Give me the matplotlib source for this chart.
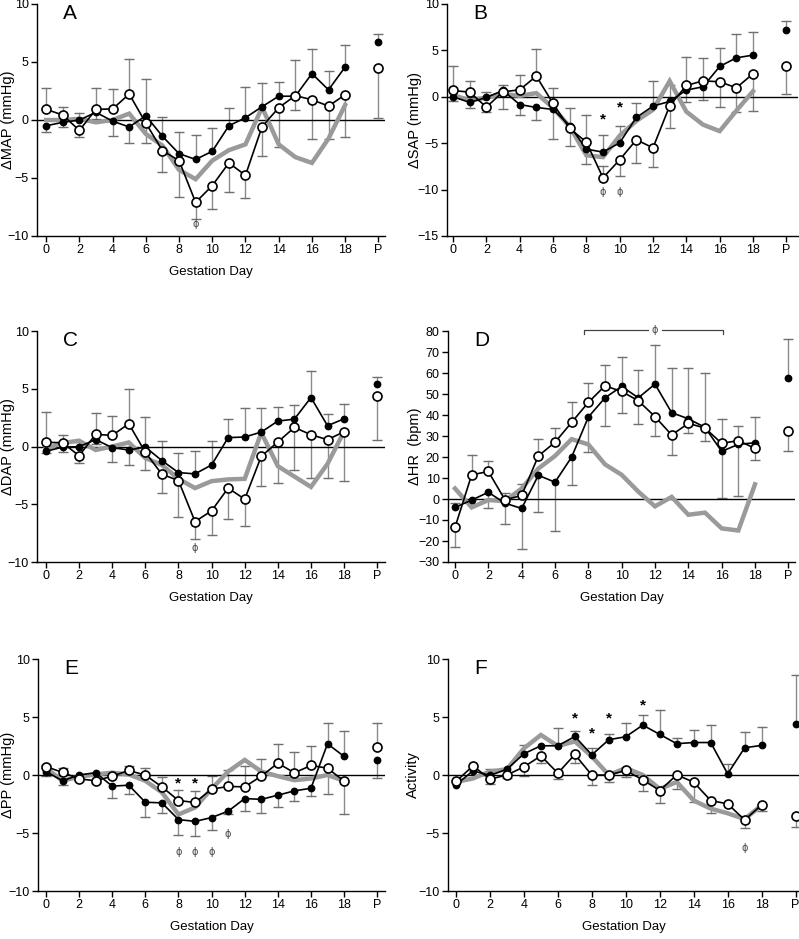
import numpy as np
import matplotlib
matplotlib.use("Agg")
import matplotlib.pyplot as plt

plt.rcParams['font.family'] = ['Liberation Sans', 'DejaVu Sans']

days = list(range(19)) + [20]
xtick_pos = [0, 2, 4, 6, 8, 10, 12, 14, 16, 18, 20]
xtick_labels = ['0', '2', '4', '6', '8', '10', '12', '14', '16', '18', 'P']

## A. MAP ##
map_filled = [-0.5, -0.2, 0.0, 0.66, -0.1, -0.6, 0.37, -1.4, -2.9, -3.4, -2.7, -0.5, 0.2, 1.15, 2.05, 2.05, 4.0, 2.6, 4.57, 6.75]
map_filled_err = [-1.0, -0.6, 0.6, 0.1, -1.4, -2.0, 3.5, 0.25, -1.0, -1.3, -0.7, 1.0, 2.85, 3.2, 3.3, 5.2, 6.1, 4.2, 6.5, 7.4]
map_open = [0.92, 0.43, -0.9, 0.92, 0.95, 2.24, -0.26, -2.64, -3.5, -7.1, -5.66, -3.7, -4.77, -0.57, 1.06, 2.1, 1.75, 1.2, 2.18, 4.48]
map_open_err = [2.8, 1.1, -1.5, 2.8, 2.7, 5.3, -2.0, -4.5, -6.6, -8.5, -7.7, -6.2, -6.7, -3.1, -2.3, 0.85, -1.6, -1.6, -1.5, 0.15]
map_grey = [0.0, 0.0, 0.1, -0.2, 0.0, 0.55, -1.2, -2.2, -4.3, -5.1, -3.5, -2.6, -2.1, 1.1, -2.1, -3.2, -3.7, -1.6, 1.3]

## B. SAP ##
sap_filled = [0.0, -0.6, -0.07, 0.68, -0.83, -1.15, -1.36, -3.1, -5.64, -5.96, -4.96, -2.23, -1.0, -0.5, 0.72, 1.08, 3.27, 4.2, 4.49, 7.22]
sap_filled_err = [-0.5, -1.2, 0.5, 1.3, -2.0, -2.5, 1.0, -1.2, -2.0, -4.1, -3.2, -0.7, 1.7, 1.3, 4.3, 4.2, 5.3, 6.8, 6.95, 8.2]
sap_open = [0.68, 0.5, -1.11, 0.54, 0.75, 2.23, -0.72, -3.41, -4.88, -8.73, -6.79, -4.63, -5.5, -0.97, 1.22, 1.72, 1.62, 0.97, 2.48, 3.3]
sap_open_err = [3.3, 1.7, -1.6, -1.3, 2.4, 5.1, -4.5, -5.3, -7.2, -7.5, -8.5, -7.1, -7.6, -3.4, -0.6, -0.3, -1.1, -1.6, -1.55, 0.3]
sap_grey = [0.2, -0.4, -0.1, 0.3, 0.1, 0.4, -1.2, -3.2, -6.3, -6.5, -4.2, -2.6, -1.4, 1.7, -1.6, -3.0, -3.7, -1.5, 0.6]

## C. DAP ##
dap_filled = [-0.42, -0.05, -0.02, 0.6, -0.1, -0.3, -0.05, -1.22, -2.26, -2.37, -1.6, 0.77, 0.82, 1.25, 2.2, 2.37, 4.24, 1.8, 2.4, 5.43]
dap_filled_err = [-0.6, -0.5, 0.4, 0.2, -1.35, -1.6, 2.55, 0.5, -0.6, -0.4, 0.45, 2.4, 3.3, 3.35, 3.45, 3.6, 6.5, 2.8, 3.7, 6.0]
dap_open = [0.36, 0.33, -0.8, 1.05, 0.96, 1.97, -0.5, -2.4, -2.95, -6.5, -5.57, -3.6, -4.56, -0.85, 0.39, 1.65, 1.02, 0.59, 1.28, 4.33]
dap_open_err = [3.0, 1.0, -1.45, 2.9, 2.6, 5.0, -2.0, -4.0, -6.1, -8.0, -7.7, -6.3, -6.9, -3.4, -3.2, -2.0, -2.7, -2.7, -2.95, 0.6]
dap_grey = [-0.2, 0.3, 0.5, -0.3, 0.0, 0.35, -1.0, -1.6, -2.8, -3.6, -3.0, -2.85, -2.8, 1.2, -1.7, -2.6, -3.5, -1.5, 1.3]

## D. HR ##
hr_filled = [-4.0, -0.5, 3.2, -2.0, -4.5, 11.3, 8.0, 20.0, 39.0, 48.2, 53.6, 48.2, 54.7, 41.1, 38.2, 34.1, 22.7, 26.0, 26.8, 57.4]
hr_filled_err = [-1.7, None, -4.2, -12.0, -24.0, -6.2, -15.2, 6.7, 22.2, 35.0, 67.4, 61.2, 73.5, 62.2, 62.2, 59.9, 0.3, 1.5, 38.9, 76.4]
hr_open = [-13.5, 11.5, 13.1, -0.4, 1.7, 20.5, 27.0, 36.5, 46.0, 53.9, 51.2, 46.8, 39.2, 30.5, 36.0, 33.8, 26.5, 27.8, 24.1, 32.5]
hr_open_err = [-22.7, 21.0, 18.2, 2.7, 7.0, 28.4, 33.7, 46.4, 55.2, 64.0, 40.8, 35.5, 30.0, 20.8, 31.2, 27.5, 38.0, 34.7, 18.5, 22.8]
hr_grey = [5, -4, -0.5, -1, 5, 14.5, 20.5, 28.5, 26, 16.5, 11.5, 3.5, -3.5, 1, -7.5, -6.5, -14, -15, 7]

## E. PP ##
pp_filled = [0.3, -0.5, 0.0, 0.2, -0.96, -0.88, -2.35, -2.4, -3.84, -4.0, -3.67, -3.12, -2.03, -2.1, -1.74, -1.37, -1.14, 2.69, 1.6, 1.28]
pp_filled_err = [-0.1, -0.9, -0.3, 0.0, -2.0, -1.6, -3.6, -3.3, -5.2, -5.3, -4.7, -3.4, -3.1, -3.25, -2.75, -2.25, -1.8, 4.45, 3.8, -0.3]
pp_open = [0.73, 0.22, -0.33, -0.5, -0.1, 0.39, -0.01, -1.02, -2.2, -2.37, -1.22, -0.99, -1.02, -0.1, 1.02, 0.19, 0.82, 0.59, -0.53, 2.4]
pp_open_err = [0.9, 0.6, -0.5, -0.7, None, 0.8, 0.6, -0.2, -1.3, -1.4, -0.05, 0.4, 0.8, 1.4, 2.7, 1.95, 2.5, -1.6, -3.35, 4.5]
pp_grey = [0.6, -0.5, -0.15, 0.05, 0.2, 0.05, -0.5, -1.5, -3.4, -2.8, -1.2, 0.3, 1.3, 0.3, -0.1, -0.45, -0.3, 0.0, -0.5]

## F. Activity ##
act_filled = [-0.85, 0.36, -0.04, 0.5, 1.83, 2.52, 2.52, 3.32, 1.74, 3.04, 3.3, 4.3, 3.5, 2.7, 2.8, 2.8, 0.1, 2.35, 2.55, 4.42]
act_filled_err = [None, None, 0.5, None, 2.6, None, 4.05, 3.8, 2.3, 3.5, 4.5, 5.2, 5.6, 3.2, 3.85, 4.3, 0.95, 3.7, 4.1, 8.6]
act_open = [-0.56, 0.79, -0.36, 0.0, 0.7, 1.65, 0.16, 1.77, -0.01, 0.0, 0.39, -0.42, -1.34, 0.01, -0.62, -2.2, -2.49, -3.87, -2.58, -3.55]
act_open_err = [None, None, -0.8, -0.3, -0.1, 1.0, -0.35, 1.0, -0.9, -0.6, -0.2, -1.4, -2.4, -1.2, -2.3, -3.3, None, -4.6, -3.1, -4.5]
act_grey = [-0.6, -0.3, 0.3, 0.5, 2.3, 3.45, 2.5, 2.9, 1.6, 0.0, 0.6, 0.0, -1.2, -0.6, -2.2, -2.9, -3.3, -3.8, -2.6]

# significance marks: (day, y)
sap_stars = [(9, -2.4), (10, -1.1)]
sap_phis = [(9, -10.3), (10, -10.3)]
map_phis = [(9, -9.0)]
dap_phis = [(9, -8.8)]
pp_stars = [(8, -0.7), (9, -0.7)]
pp_phis = [(8, -6.6), (9, -6.6), (10, -6.6), (11, -5.1)]
act_stars = [(7, 4.85), (8, 3.6), (9, 4.85), (11, 6.0)]
act_phis = [(17, -6.3)]

GREY = '#9a9a9a'
ERR = '#8a8a8a'


def err_bars(ax, vals, ends):
    for x, v, e in zip(days, vals, ends):
        if e is None:
            continue
        ax.plot([x, x], [v, e], color=ERR, lw=1.0, zorder=1)
        ax.plot([x], [e], marker='_', color='#707070', ms=7, mew=1.0, zorder=1)


def panel(ax, filled, filled_err, opn, opn_err, grey, ylim, yticks, ylabel,
          letter, xlim, ylab_x, xlabel=True, stars=(), phis=()):
    err_bars(ax, filled, filled_err)
    err_bars(ax, opn, opn_err)
    ax.axhline(0, color='black', lw=1.0, zorder=2)
    ax.plot(days[:19], grey, color=GREY, lw=3.2, zorder=3, solid_joinstyle='miter')
    ax.plot(days[:19], filled[:19], color='black', lw=1.2, zorder=4)
    ax.plot(days[:19], opn[:19], color='black', lw=1.2, zorder=4)
    ax.plot(days, filled, 'o', color='black', ms=4.6, zorder=5, ls='none')
    ax.plot(days, opn, 'o', mfc='white', mec='black', mew=1.2, ms=6.5, zorder=6, ls='none')

    for d, y in stars:
        ax.text(d, y, '*', ha='center', va='center', fontsize=11, fontweight='bold')
    for d, y in phis:
        ax.text(d, y, '\u03d5', ha='center', va='center', fontsize=7, color='#444444',
                family=['DejaVu Sans'])

    ax.set_xlim(*xlim)
    ax.set_ylim(*ylim)
    ax.set_yticks(yticks)
    ax.set_xticks(xtick_pos)
    ax.set_xticklabels(xtick_labels)
    ax.tick_params(labelsize=9, length=4, width=1, direction='out', pad=2)
    for s in ['top', 'right']:
        ax.spines[s].set_visible(False)
    for s in ['left', 'bottom']:
        ax.spines[s].set_linewidth(1.0)
    ax.set_ylabel(ylabel, fontsize=10.5)
    ax.yaxis.set_label_coords(ylab_x, 0.5)
    if xlabel:
        ax.set_xlabel('Gestation Day', fontsize=9.5, labelpad=7)
    ax.text(0.075, 0.96, letter, transform=ax.transAxes, fontsize=15, va='center', ha='left')


W, H = 799, 939
fig = plt.figure(figsize=(W / 100, H / 100), dpi=100)


def axes_px(left, right, top, bottom):
    return fig.add_axes([left / W, 1 - bottom / H, (right - left) / W, (bottom - top) / H])


axA = axes_px(37, 385, 4, 236)
axB = axes_px(447, 798, 4, 236)
axC = axes_px(37, 385, 331, 562)
axD = axes_px(448, 795, 331, 562)
axE = axes_px(38, 385, 659, 891)
axF = axes_px(448, 799, 659, 891)

panel(axA, map_filled, map_filled_err, map_open, map_open_err, map_grey,
      (-10, 10), [-10, -5, 0, 5, 10], '\u0394MAP (mmHg)', 'A', (-0.55, 20.4), -0.063,
      phis=map_phis)
panel(axB, sap_filled, sap_filled_err, sap_open, sap_open_err, sap_grey,
      (-15, 10), [-15, -10, -5, 0, 5, 10], '\u0394SAP (mmHg)', 'B', (-0.36, 20.7), -0.07,
      xlabel=False, stars=sap_stars, phis=sap_phis)
panel(axC, dap_filled, dap_filled_err, dap_open, dap_open_err, dap_grey,
      (-10, 10), [-10, -5, 0, 5, 10], '\u0394DAP (mmHg)', 'C', (-0.54, 20.47), -0.063,
      phis=dap_phis)
panel(axD, hr_filled, hr_filled_err, hr_open, hr_open_err, hr_grey,
      (-30, 80), list(range(-30, 81, 10)), '\u0394HR  (bpm)', 'D', (-0.42, 20.4), -0.075)
panel(axE, pp_filled, pp_filled_err, pp_open, pp_open_err, pp_grey,
      (-10, 10), [-10, -5, 0, 5, 10], '\u0394PP (mmHg)', 'E', (-0.48, 20.47), -0.066,
      stars=pp_stars, phis=pp_phis)
panel(axF, act_filled, act_filled_err, act_open, act_open_err, act_grey,
      (-10, 10), [-10, -5, 0, 5, 10], 'Activity', 'F', (-0.47, 20.2), -0.08,
      stars=act_stars, phis=act_phis)

# bracket over days 8-16 in panel D
bk_y, bk_tick = 80.6, 78.7
axD.plot([7.75, 7.75, 11.6], [bk_tick, bk_y, bk_y], color='#444444', lw=0.9, clip_on=False)
axD.plot([12.4, 16.1, 16.1], [bk_y, bk_y, bk_tick], color='#444444', lw=0.9, clip_on=False)
axD.text(12, bk_y, '\u03d5', ha='center', va='center', fontsize=7, color='#444444',
         family=['DejaVu Sans'], clip_on=False)

fig.savefig('out.png', dpi=100)
